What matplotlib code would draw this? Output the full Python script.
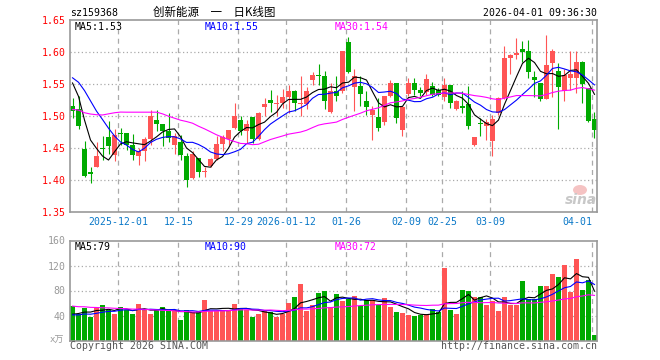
import numpy as np
import pandas as pd
import matplotlib
matplotlib.use("Agg")
import matplotlib.pyplot as plt
from matplotlib.patches import Ellipse

plt.rcParams["font.family"] = ["DejaVu Sans Mono", "Noto Sans CJK SC"]

W, H = 660, 360
RED = "#ff5555"
GREEN = "#00aa00"
GRID = "#aaaaaa"
FRAME = "#999999"
TICK_BLUE = "#0a78c8"

# trading days shown (exchange closed for New Year and Spring Festival)
holidays = ["2026-01-01", "2026-01-02", "2026-02-16", "2026-02-17",
            "2026-02-18", "2026-02-19", "2026-02-20", "2026-02-23"]
dates = pd.bdate_range("2025-11-19", "2026-04-01")
dates = dates[~dates.isin(pd.to_datetime(holidays))]

opens = [1.515, 1.511, 1.449, 1.412, 1.421, 1.450, 1.467, 1.439, 1.474, 1.473,
         1.455, 1.437, 1.446, 1.464, 1.493, 1.488, 1.477, 1.454, 1.459, 1.438,
         1.403, 1.435, 1.413, 1.422, 1.433, 1.456, 1.464, 1.481, 1.493, 1.477,
         1.498, 1.464, 1.514, 1.525, 1.519, 1.521, 1.529, 1.539, 1.518, 1.519,
         1.557, 1.564, 1.563, 1.506, 1.539, 1.539, 1.616, 1.546, 1.547, 1.523,
         1.502, 1.499, 1.490, 1.532, 1.551, 1.478, 1.535, 1.551, 1.540, 1.537,
         1.547, 1.540, 1.529, 1.549, 1.511, 1.516, 1.519, 1.454, 1.489, 1.484,
         1.461, 1.505, 1.528, 1.591, 1.595, 1.604, 1.602, 1.561, 1.551, 1.527,
         1.583, 1.571, 1.539, 1.560, 1.560, 1.584, 1.543, 1.496]
highs = [1.528, 1.531, 1.461, 1.421, 1.460, 1.469, 1.492, 1.479, 1.481, 1.473,
         1.472, 1.450, 1.467, 1.510, 1.510, 1.488, 1.505, 1.473, 1.471, 1.442,
         1.445, 1.435, 1.421, 1.434, 1.469, 1.471, 1.478, 1.520, 1.500, 1.494,
         1.498, 1.506, 1.528, 1.540, 1.533, 1.542, 1.549, 1.541, 1.562, 1.546,
         1.568, 1.581, 1.571, 1.552, 1.562, 1.602, 1.624, 1.573, 1.563, 1.539,
         1.515, 1.528, 1.532, 1.557, 1.551, 1.516, 1.559, 1.559, 1.546, 1.565,
         1.553, 1.544, 1.559, 1.549, 1.525, 1.539, 1.547, 1.467, 1.497, 1.495,
         1.502, 1.529, 1.610, 1.597, 1.622, 1.617, 1.618, 1.571, 1.552, 1.627,
         1.604, 1.583, 1.573, 1.602, 1.602, 1.586, 1.544, 1.507]
lows = [1.497, 1.480, 1.404, 1.395, 1.420, 1.432, 1.440, 1.430, 1.455, 1.447,
        1.431, 1.424, 1.430, 1.455, 1.476, 1.453, 1.460, 1.441, 1.432, 1.389,
        1.401, 1.404, 1.404, 1.420, 1.432, 1.445, 1.455, 1.479, 1.471, 1.458,
        1.458, 1.463, 1.500, 1.507, 1.500, 1.512, 1.505, 1.508, 1.500, 1.511,
        1.549, 1.549, 1.511, 1.505, 1.524, 1.536, 1.567, 1.508, 1.516, 1.502,
        1.462, 1.476, 1.486, 1.530, 1.489, 1.469, 1.532, 1.533, 1.531, 1.533,
        1.531, 1.531, 1.523, 1.512, 1.509, 1.505, 1.480, 1.453, 1.469, 1.463,
        1.437, 1.502, 1.527, 1.566, 1.589, 1.585, 1.559, 1.529, 1.523, 1.526,
        1.529, 1.479, 1.524, 1.541, 1.536, 1.520, 1.491, 1.466]
closes = [1.508, 1.484, 1.407, 1.410, 1.438, 1.448, 1.453, 1.471, 1.472, 1.455,
          1.439, 1.446, 1.464, 1.500, 1.488, 1.477, 1.466, 1.468, 1.439, 1.400,
          1.441, 1.412, 1.414, 1.433, 1.457, 1.467, 1.478, 1.500, 1.477, 1.488,
          1.464, 1.504, 1.519, 1.521, 1.521, 1.529, 1.539, 1.520, 1.521, 1.539,
          1.564, 1.563, 1.523, 1.539, 1.532, 1.601, 1.569, 1.563, 1.534, 1.514,
          1.510, 1.482, 1.531, 1.551, 1.497, 1.514, 1.551, 1.540, 1.536, 1.558,
          1.533, 1.533, 1.549, 1.521, 1.524, 1.512, 1.485, 1.467, 1.487, 1.490,
          1.496, 1.528, 1.590, 1.595, 1.598, 1.600, 1.568, 1.557, 1.526, 1.579,
          1.602, 1.546, 1.564, 1.565, 1.584, 1.550, 1.492, 1.478]
volumes = [55.2, 41.7, 52.6, 37.0, 53.7, 57.3, 49.0, 43.2, 54.2, 49.0,
           43.2, 58.9, 49.0, 43.2, 49.0, 54.2, 49.0, 46.9, 32.3, 49.0,
           45.3, 46.9, 65.1, 47.9, 47.9, 49.0, 47.9, 58.9, 52.6, 49.0,
           37.0, 43.2, 46.9, 45.3, 37.0, 43.2, 60.4, 69.8, 90.7, 47.9,
           57.3, 76.1, 79.2, 54.2, 75.0, 62.5, 66.2, 71.4, 55.2, 64.6,
           64.6, 57.3, 68.3, 54.2, 46.4, 44.8, 40.1, 38.6, 40.1, 42.7,
           51.1, 45.8, 115.7, 49.5, 43.2, 80.8, 79.2, 69.8, 69.8, 57.3,
           63.6, 47.9, 69.8, 57.3, 57.3, 94.8, 66.2, 66.2, 87.0, 87.0,
           106.3, 101.1, 120.4, 78.2, 129.7, 80.8, 96.4, 9.4]

# sessions before the window, estimated from where the MA lines start
prev_closes = [1.514, 1.533, 1.470, 1.470, 1.460, 1.400, 1.420, 1.440, 1.460, 1.439,
               1.446, 1.464, 1.500, 1.488, 1.555, 1.577, 1.561, 1.532, 1.463, 1.519,
               1.554, 1.537, 1.571, 1.598, 1.579, 1.589, 1.592, 1.566, 1.503]
prev_volumes = [69, 57, 65, 60, 71, 54, 63, 59, 67, 58, 62, 56, 65, 61, 69,
                57, 63, 60, 59, 65, 43, 37, 41, 39, 40, 36, 41, 37, 41]

price_ticks = [1.35, 1.40, 1.45, 1.50, 1.55, 1.60, 1.65]
volume_ticks = [40, 80, 120, 160]
tick_dates = ["2025-12-01", "2025-12-15", "2025-12-29", "2026-01-12", "2026-01-26",
              "2026-02-09", "2026-02-25", "2026-03-09", "2026-04-01"]

ma_periods = [5, 10, 30]
ma_colors = ["#000000", "#0000ff", "#ff00ff"]


def moving_average(prev, values, n):
    s = pd.Series(list(prev) + list(values))
    return s.rolling(n).mean().to_numpy()[len(prev):]


def px(x, y):
    return x / W, 1 - y / H


o, h, l, c = map(np.array, (opens, highs, lows, closes))
v = np.array(volumes)
x = np.arange(len(c))
colors = np.where(c >= o, RED, GREEN)

# tick positions and labels (year shown when it changes)
tick_idx = [dates.get_loc(pd.Timestamp(d)) for d in tick_dates]
tick_pos = [i - 0.37 for i in tick_idx]
tick_text = []
last_year = None
for d in tick_dates:
    tick_text.append(d if d[:4] != last_year else d[5:])
    last_year = d[:4]

fig = plt.figure(figsize=(W / 100, H / 100), dpi=100)
ax = fig.add_axes([70 / W, (H - 212) / H, 527 / W, 192 / H])
axv = fig.add_axes([70 / W, (H - 340.5) / H, 527 / W, 100 / H])

for a in (ax, axv):
    a.set_xlim(-0.42, len(c) - 0.58)
    for s in a.spines.values():
        s.set_color(FRAME)
        s.set_linewidth(1.2)
    for p in tick_pos:
        a.axvline(p, color=GRID, lw=0.9, ls=(0, (4, 3.5)), zorder=0.5)

# price panel
for y in price_ticks[1:-1]:
    ax.axhline(y, color=GRID, lw=0.9, ls=(0, (1, 2)), zorder=0.5)
ax.vlines(x, l, h, colors=colors, lw=0.8, zorder=2)
ax.bar(x, np.maximum(np.abs(c - o), 0.0012), 0.82, bottom=np.minimum(o, c),
       color=colors, lw=0, zorder=2)
price_ma = []
for n, col in zip(ma_periods, ma_colors):
    ma = moving_average(prev_closes, closes, n)
    price_ma.append(ma[-1])
    ax.plot(x, ma, color=col, lw=0.8, zorder=3)
ax.set_ylim(price_ticks[0], price_ticks[-1])
ax.set_yticks(price_ticks)
ax.set_yticklabels([f"{t:.2f}" for t in price_ticks])
ax.set_xticks(tick_pos)
ax.set_xticklabels(tick_text)
ax.tick_params(axis="y", length=0, pad=3, labelcolor="#ff0000", labelsize=7.1)
ax.tick_params(axis="x", length=0, pad=3.5, labelcolor=TICK_BLUE, labelsize=7.1)
ax.get_xticklabels()[-1].set_ha("right")

# volume panel
for y in volume_ticks[:-1]:
    axv.axhline(y, color=GRID, lw=0.9, ls=(0, (1, 2)), zorder=0.5)
axv.bar(x, v, 0.82, color=colors, lw=0, zorder=2)
vol_ma = []
for n, col in zip(ma_periods, ma_colors):
    ma = moving_average(prev_volumes, volumes, n)
    vol_ma.append(ma[-1])
    axv.plot(x, ma, color=col, lw=0.8, zorder=3)
axv.set_ylim(0, volume_ticks[-1])
axv.set_yticks(volume_ticks)
axv.set_xticks(tick_pos)
axv.set_xticklabels([])
axv.tick_params(axis="y", length=0, pad=3, labelcolor=FRAME, labelsize=7.1)
axv.tick_params(axis="x", length=0)

# MA legends
for k, (n, col) in enumerate(zip(ma_periods, ma_colors)):
    xl = [75, 205, 335][k]
    fig.text(*px(xl, 26.5), f"MA{n}:{price_ma[k]:.2f}", color=col,
             fontsize=7.1, va="center")
    fig.text(*px(xl, 246.5), f"MA{n}:{vol_ma[k]:.0f}", color=col,
             fontsize=7.1, va="center")

# header and footer
fig.text(*px(70, 13.3), "sz159368", fontsize=7.1, va="center")
fig.text(*px(214, 12.5), "创新能源　一　日K线图", fontsize=8.3, va="center",
         ha="center", family=["Noto Sans CJK SC", "DejaVu Sans"])
fig.text(*px(597, 13), "2026-04-01 09:36:30", fontsize=7.1, va="center", ha="right")
fig.text(*px(64, 340), "x万", fontsize=6.5, va="center", ha="right", color=FRAME)
fig.text(*px(70, 346), "Copyright 2026 SINA.COM", fontsize=7.1, va="center",
         color="#555555")
fig.text(*px(597, 346), "http://finance.sina.com.cn", fontsize=7.1, va="center",
         ha="right", color="#555555")

# sina watermark
fig.add_artist(Ellipse(px(580, 190), 14 / W, 10 / H, transform=fig.transFigure,
                       facecolor="#f3b5b5", edgecolor="none", alpha=0.8))
fig.text(*px(581, 200), "sina", fontsize=10, style="italic", weight="bold",
         color="#c8c8c8", va="center", ha="center", family="DejaVu Sans")

fig.savefig("out.png", dpi=100)
